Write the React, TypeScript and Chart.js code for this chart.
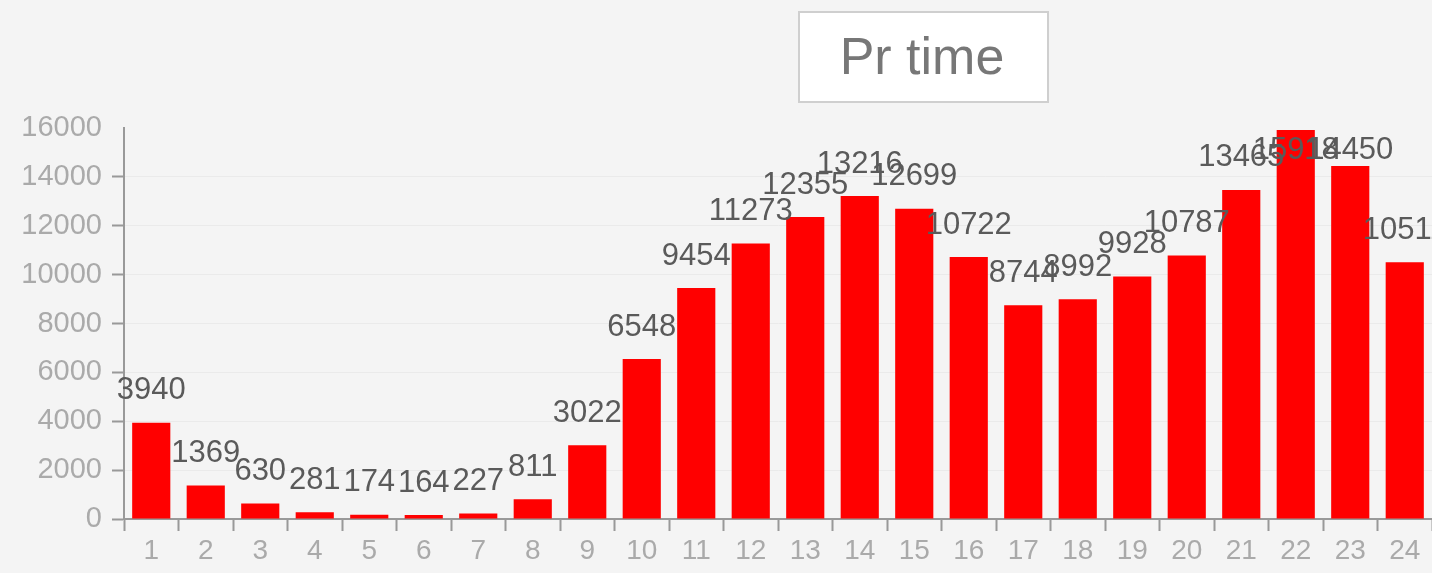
import React, { useEffect, useRef } from "react";
import { Chart, registerables } from "chart.js";

Chart.register(...registerables);

const categories: string[] = ["1","2","3","4","5","6","7","8","9","10","11","12","13","14","15","16","17","18","19","20","21","22","23","24"];
const prTime: number[] = [3940,1369,630,281,174,164,227,811,3022,6548,9454,11273,12355,13216,12699,10722,8744,8992,9928,10787,13465,15918,14450,10511];
const titleText = "Pr time";
const yMax = 16000;
const yStep = 2000;

const FONT = "'Liberation Sans', Arial, sans-serif";

const bgPlugin = {
  id: "bg",
  beforeDraw(chart: any) {
    const ctx = chart.ctx;
    ctx.save();
    ctx.fillStyle = "#f4f4f4";
    ctx.fillRect(0, 0, chart.width, chart.height);
    ctx.restore();
  },
};

const titleBoxPlugin = {
  id: "titleBox",
  afterDraw(chart: any) {
    const ctx = chart.ctx;
    ctx.save();
    ctx.fillStyle = "#ffffff";
    ctx.fillRect(799, 12, 249, 90);
    ctx.strokeStyle = "#cfcfcf";
    ctx.lineWidth = 2;
    ctx.strokeRect(799, 12, 249, 90);
    ctx.fillStyle = "#777777";
    ctx.font = "52px " + FONT;
    ctx.textAlign = "center";
    ctx.textBaseline = "middle";
    ctx.fillText(titleText, 922, 60);
    ctx.restore();
  },
};

const labelPlugin = {
  id: "barLabels",
  afterDatasetsDraw(chart: any) {
    const ctx = chart.ctx;
    const meta = chart.getDatasetMeta(0);
    const ys = chart.scales.y;
    ctx.save();
    ctx.fillStyle = "#5a5a5a";
    ctx.font = "31px " + FONT;
    ctx.textAlign = "center";
    ctx.textBaseline = "middle";
    meta.data.forEach((bar: any, i: number) => {
      const v = prTime[i];
      const y = Math.max(ys.getPixelForValue(v) - 32, 150);
      ctx.fillText(String(v), bar.x, y);
    });
    ctx.restore();
  },
};

export default function App() {
  const ref = useRef<HTMLCanvasElement | null>(null);
  useEffect(() => {
    if (!ref.current) return;
    const chart = new Chart(ref.current, {
      type: "bar",
      data: {
        labels: categories,
        datasets: [
          {
            label: titleText,
            data: prTime,
            backgroundColor: "#ff0000",
            borderWidth: 0,
            barPercentage: 0.7,
            categoryPercentage: 1,
          },
        ],
      },
      options: {
        animation: false,
        responsive: false,
        maintainAspectRatio: false,
        layout: { padding: { top: 128, right: 0, left: 0, bottom: 0 } },
        plugins: {
          legend: { display: false },
          title: { display: false },
          tooltip: { enabled: false },
        },
        scales: {
          x: {
            offset: true,
            grid: {
              offset: true,
              drawOnChartArea: false,
              drawTicks: true,
              tickLength: 12,
              tickColor: "#999999",
              tickWidth: 2,
            },
            border: { color: "#999999", width: 2 },
            ticks: {
              color: "#aaaaaa",
              font: { size: 28, family: FONT },
              padding: 3,
              maxRotation: 0,
              autoSkip: false,
            },
            afterFit(scale: any) {
              scale.height = 54;
            },
          },
          y: {
            min: 0,
            max: yMax,
            ticks: {
              stepSize: yStep,
              color: "#aaaaaa",
              font: { size: 29, family: FONT },
              padding: 10,
              callback: (v: any) => String(v),
            },
            grid: {
              color: (c: any) => (c.tick && c.tick.value === yMax ? "rgba(0,0,0,0)" : "#eaeaea"),
              tickColor: (c: any) => (c.tick && c.tick.value === yMax ? "rgba(0,0,0,0)" : "#999999"),
              tickLength: 12,
              tickWidth: 2,
            },
            border: { color: "#999999", width: 2 },
            afterFit(scale: any) {
              scale.width = 124;
            },
          },
        },
      },
      plugins: [bgPlugin, labelPlugin, titleBoxPlugin],
    });
    return () => chart.destroy();
  }, []);
  return (
    <div style={{ position: "fixed", left: 0, top: 0, width: 1432, height: 573, overflow: "hidden", background: "#f4f4f4" }}>
      <canvas ref={ref} width={1432} height={573} style={{ display: "block" }} />
    </div>
  );
}
